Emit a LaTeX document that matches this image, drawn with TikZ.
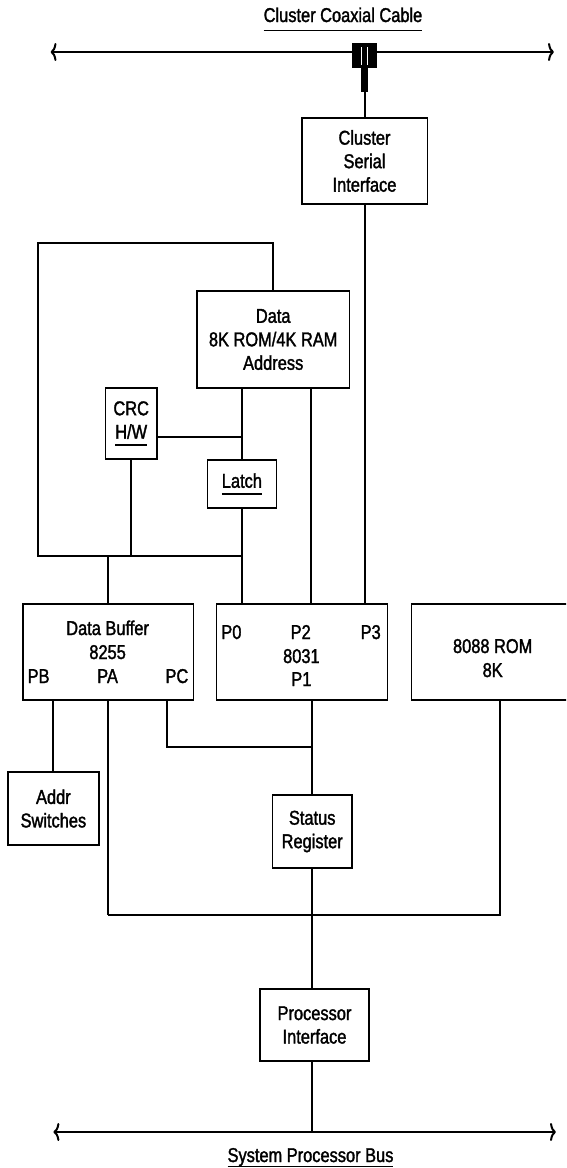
\documentclass[tikz,border=0pt]{standalone}
\usepackage{fontspec}
\setmainfont{Liberation Sans}[FakeStretch=0.82,FakeBold=1.6]
\usetikzlibrary{arrows.meta}
\newcommand{\myul}[2]{\setbox0\hbox{#2}\rlap{\rule[-#1]{\wd0}{1.4pt}}\box0}
\tikzset{
  box/.style={draw, line width=1.6pt, inner sep=0pt, align=center, font=\fontsize{20}{23.5}\selectfont},
  txt/.style={inner sep=0pt, anchor=base, font=\fontsize{20}{23.5}\selectfont},
  wire/.style={line width=2pt},
  bus/.style={line width=2pt, {To[length=6pt,width=18pt]}-{To[length=6pt,width=18pt]}}
}
\begin{document}
\begin{tikzpicture}[x=1pt,y=-1pt]
\useasboundingbox (0,0) rectangle (566,1168);
% titles
\node[txt] (ttop) at (343,22) {\myul{9pt}{Cluster Coaxial Cable}};
\node[txt] (tbot) at (310.5,1162) {\myul{5pt}{System Processor Bus}};
% buses
\coordinate (cl) at (50.5,52);
\coordinate (cr) at (554,52);
\draw[bus] (cl) -- (cr);
\coordinate (bl) at (53.4,1132);
\coordinate (br) at (556,1132);
\draw[bus] (bl) -- (br);
% tap connector
\node[fill=black, minimum width=25pt, minimum height=25pt, inner sep=0pt] (tap) at (364.5,55.5) {};
\draw[white, line width=0.9pt] (361.5,47) -- (361.5,65) (367.5,47) -- (367.5,65);
\node[fill=black, minimum width=7pt, minimum height=24pt, inner sep=0pt] (stem) at (364.5,80) {};
% boxes
\node[box, minimum width=125.6pt, minimum height=86pt] (csi) at (364.5,161) {Cluster\\Serial\\Interface};
\node[box, minimum width=152.4pt, minimum height=97pt] (data) at (273.2,339.5) {Data\\8K ROM/4K RAM\\Address};
\node[box, minimum width=51.6pt, minimum height=71pt] (crc) at (131.2,423.5) {CRC\\\myul{7pt}{H/W}};
\node[box, minimum width=69pt, minimum height=48pt] (latch) at (241.9,484) {\myul{7pt}{Latch}};
\node[box, minimum width=170.7pt, minimum height=96pt] (dbuf) at (108.3,652) {};
\node[box, minimum width=170.7pt, minimum height=96pt] (cpu) at (302,652) {};
\begin{scope}
\clip (0,0) rectangle (566,1168);
\node[box, minimum width=170pt, minimum height=96pt] (rom) at (496.5,652) {};
\end{scope}
\node[box, minimum width=90.6pt, minimum height=73pt] (addr) at (53.4,808.5) {Addr\\Switches};
\node[box, minimum width=79.5pt, minimum height=73pt] (status) at (312.2,831.5) {Status\\Register};
\node[box, minimum width=109pt, minimum height=72pt] (proc) at (314.5,1025) {Processor\\Interface};
% box texts
\node[txt] (db1) at (107.6,635) {Data Buffer};
\node[txt] (db2) at (107.6,659) {8255};
\node[txt] (pb) at (38.6,683) {PB};
\node[txt] (pa) at (107.6,683) {PA};
\node[txt] (pcl) at (176.9,683) {PC};
\node[txt] (p0) at (231.4,639) {P0};
\node[txt] (p2) at (300.7,639) {P2};
\node[txt] (p3) at (370.7,639) {P3};
\node[txt] (c1) at (301.4,663) {8031};
\node[txt] (p1) at (301.4,686) {P1};
\node[txt] (r1) at (492.7,653) {8088 ROM};
\node[txt] (r2) at (492.7,677) {8K};
% connections
\draw[wire] (stem.south) -- (csi.north);
\draw[wire] (csi.south) -- (csi.south |- cpu.north);
\coordinate (loopTL) at (38,243);
\coordinate (jn) at (241.9,556);
\draw[wire] (data.north) |- (loopTL) |- (jn);
\draw[wire] (data.south -| latch.north) -- (latch.north);
\draw[wire] (latch.south) -- (latch.south |- cpu.north);
\coordinate (crcj) at (241.9,437);
\draw[wire] (crc.east |- crcj) -- (crcj);
\draw[wire] (crc.south) -- (crc.south |- jn);
\draw[wire] (dbuf.north |- jn) -- (dbuf.north);
\coordinate (p2x) at (311.2,0);
\draw[wire] (data.south -| p2x) -- (cpu.north -| p2x);
\draw[wire] (addr.north |- dbuf.south) -- (addr.north);
\coordinate (busL) at (108.3,915);
\draw[wire] (dbuf.south) -- (busL);
\coordinate (pc) at (167.1,700);
\coordinate (pcj) at (312.2,747);
\draw[wire] (pc) |- (pcj);
\draw[wire] (cpu.south -| status.north) -- (status.north);
\coordinate (romj) at (500,915);
\draw[wire] (rom.south -| romj) -- (romj) -- (busL);
\draw[wire] (status.south) -- (status.south |- proc.north);
\draw[wire] (status.south |- proc.south) -- (status.south |- bl);
\end{tikzpicture}
\end{document}
